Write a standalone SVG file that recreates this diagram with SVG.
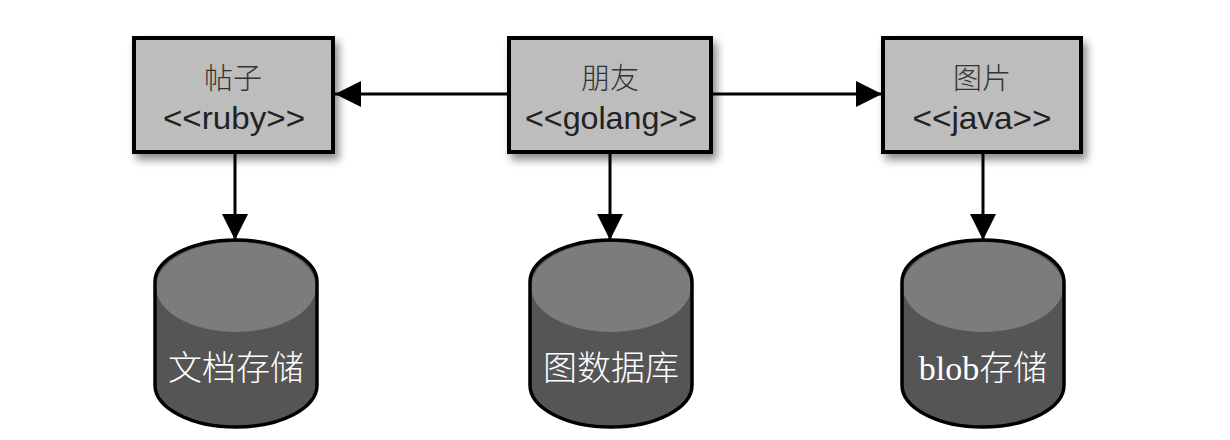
<svg xmlns="http://www.w3.org/2000/svg" width="1230" height="440" viewBox="0 0 1230 440">
<style>
.box{fill:#bdbdbd;stroke:#000;stroke-width:4;filter:url(#sh)}
.t1{font-family:"Noto Sans CJK SC",sans-serif;font-weight:300;font-size:29px;fill:#333;text-anchor:middle}
.t2{font-family:"Liberation Sans Narrow","Liberation Sans",sans-serif;font-size:32px;fill:#222;text-anchor:middle}
.cyl{fill:#555}
.top{fill:#7c7c7c}
.out{fill:none;stroke:#000;stroke-width:3.5}
.lab{font-family:"Liberation Serif","Noto Sans CJK SC",serif;font-weight:300;font-size:34px;fill:#fff;text-anchor:middle}
.con{stroke:#000;stroke-width:3;fill:none;marker-end:url(#ah)}
</style>
<defs>
<filter id="sh" x="-10%" y="-10%" width="130%" height="140%">
<feDropShadow dx="4" dy="6" stdDeviation="4" flood-color="#000" flood-opacity="0.45"/>
</filter>
<marker id="ah" markerUnits="userSpaceOnUse" markerWidth="26" markerHeight="26" viewBox="0 0 26 26" refX="26" refY="13" orient="auto">
<path d="M0,0 L26,13 L0,26 Z" fill="#000"/>
</marker>
<path id="cylshape" d="M-81,282 A81,42 0 0 1 81,282 V385 A81,42 0 0 1 -81,385 Z"/>
<clipPath id="cc"><use href="#cylshape"/></clipPath>
</defs>
<rect width="1230" height="440" fill="#fff"/>
<g id="connectors">
<line class="con" x1="508" y1="94" x2="335" y2="94"/>
<line class="con" x1="712" y1="94" x2="882" y2="94"/>
<line class="con" x1="235" y1="152" x2="235" y2="240"/>
<line class="con" x1="610" y1="152" x2="610" y2="240"/>
<line class="con" x1="983" y1="152" x2="983" y2="240"/>
</g>
<g id="posts">
<rect class="box" x="134" y="38" width="199" height="114"/>
<text class="t1" x="233" y="89">帖子</text>
<text class="t2" x="234" y="129" textLength="142" lengthAdjust="spacingAndGlyphs">&lt;&lt;ruby&gt;&gt;</text>
</g>
<g id="friends">
<rect class="box" x="509" y="38" width="202" height="114"/>
<text class="t1" x="610" y="89">朋友</text>
<text class="t2" x="611" y="129" textLength="172" lengthAdjust="spacingAndGlyphs">&lt;&lt;golang&gt;&gt;</text>
</g>
<g id="pictures">
<rect class="box" x="883" y="38" width="198" height="114"/>
<text class="t1" x="982" y="89">图片</text>
<text class="t2" x="982" y="129" textLength="139" lengthAdjust="spacingAndGlyphs">&lt;&lt;java&gt;&gt;</text>
</g>
<g id="docstore" transform="translate(236,0)">
<use href="#cylshape" class="cyl"/>
<ellipse class="top" cx="0" cy="287" rx="80" ry="45" clip-path="url(#cc)"/>
<use href="#cylshape" class="out"/>
<text class="lab" x="0" y="380">文档存储</text>
</g>
<g id="graphdb" transform="translate(611,0)">
<use href="#cylshape" class="cyl"/>
<ellipse class="top" cx="0" cy="287" rx="80" ry="45" clip-path="url(#cc)"/>
<use href="#cylshape" class="out"/>
<text class="lab" x="0" y="380">图数据库</text>
</g>
<g id="blobstore" transform="translate(983,0)">
<use href="#cylshape" class="cyl"/>
<ellipse class="top" cx="0" cy="287" rx="80" ry="45" clip-path="url(#cc)"/>
<use href="#cylshape" class="out"/>
<text class="lab" x="0" y="380">blob存储</text>
</g>
</svg>
